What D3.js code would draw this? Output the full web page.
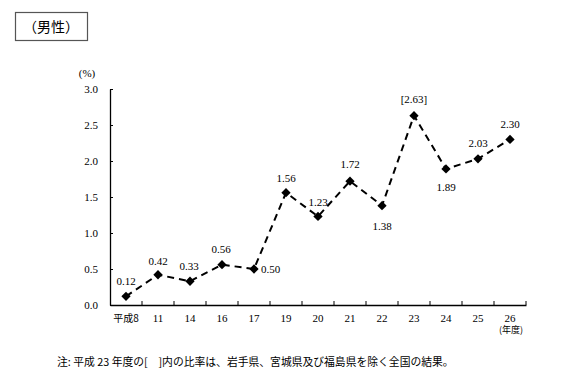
<!DOCTYPE html>
<html><head><meta charset="utf-8">
<script src="https://cdn.jsdelivr.net/npm/d3@7"></script>
<style>body{margin:0;background:#fff}</style>
</head><body>
<svg id="c" width="582" height="377"></svg>
<script>
const categories = ["平成8","11","14","16","17","19","20","21","22","23","24","25","26"];
const values = [0.12,0.42,0.33,0.56,0.50,1.56,1.23,1.72,1.38,2.63,1.89,2.03,2.30];
const valueLabels = ["0.12","0.42","0.33","0.56","0.50","1.56","1.23","1.72","1.38","[2.63]","1.89","2.03","2.30"];
// label placement relative to point: [dx, dy]
const labelPos = [[0,-15],[0,-14],[-1,-15],[-1,-16],[7,0],[0,-15],[0,-14],[0,-17],[0,20],[0,-17],[0,18],[0,-16],[0,-15]];
const yTicks = [0,0.5,1.0,1.5,2.0,2.5,3.0];

const svg = d3.select("#c");
const serif = "Liberation Serif, DejaVu Serif, serif";
const cjk = "Noto Sans CJK JP, sans-serif";

const x = d3.scaleBand().domain(categories).range([110,526]);
const y = d3.scaleLinear().domain([0,3]).range([305,89]);

// title box
svg.append("rect").attr("x",15.5).attr("y",12.5).attr("width",72).attr("height",28)
  .attr("fill","none").attr("stroke","#555").attr("stroke-width",1.2);
svg.append("text").attr("x",51).attr("y",32).attr("text-anchor","middle")
  .attr("font-family",cjk).attr("font-size",14).attr("fill","#000").text("（男性）");

// y axis
const ya = svg.append("g").attr("transform","translate(110,0)")
  .call(d3.axisRight(y).tickValues(yTicks).tickFormat(d3.format(".1f")).tickSize(3).tickSizeOuter(0));
ya.select(".domain").attr("stroke","#000").attr("stroke-width",1.3);
ya.selectAll(".tick line").attr("stroke","#000");
ya.selectAll(".tick text").attr("x",-12).attr("text-anchor","end")
  .attr("font-family",serif).attr("font-size",11).attr("fill","#000");
svg.append("text").attr("x",87).attr("y",77).attr("text-anchor","middle")
  .attr("font-family",serif).attr("font-size",11).text("(%)");

// x axis
const xa = svg.append("g").attr("transform","translate(0,305)")
  .call(d3.axisBottom(x).tickSize(0).tickSizeOuter(0));
xa.select(".domain").attr("stroke","#000").attr("stroke-width",1.3);
xa.selectAll(".tick text").attr("dy",0).attr("y",17)
  .attr("font-family",(d)=>d==="平成8"?cjk:serif).attr("font-size",(d)=>d==="平成8"?10:11).attr("fill","#000");
// boundary ticks pointing up
const bounds = categories.map(c=>x(c)+x.bandwidth());
svg.append("g").selectAll("line").data(bounds).join("line")
  .attr("x1",d=>d).attr("x2",d=>d).attr("y1",305).attr("y2",301)
  .attr("stroke","#000").attr("stroke-width",1);
svg.append("text").attr("x",x("26")+x.bandwidth()/2+1).attr("y",333).attr("text-anchor","middle")
  .attr("font-family",cjk).attr("font-size",9).text("(年度)");

// line
const cx = c => x(c)+x.bandwidth()/2;
const line = d3.line().x((d,i)=>cx(categories[i])).y(d=>y(d));
svg.append("path").datum(values).attr("d",line).attr("fill","none")
  .attr("stroke","#000").attr("stroke-width",2).attr("stroke-dasharray","7,5");

// markers
svg.append("g").selectAll("path").data(values).join("path")
  .attr("transform",(d,i)=>`translate(${cx(categories[i])},${y(d)})`)
  .attr("d",d3.symbol(d3.symbolDiamond2 || d3.symbolDiamond,55)())
  .attr("fill","#000");

// value labels
svg.append("g").selectAll("text").data(values).join("text")
  .attr("x",(d,i)=>cx(categories[i])+labelPos[i][0])
  .attr("y",(d,i)=>y(d)+labelPos[i][1]+4)
  .attr("text-anchor",(d,i)=>labelPos[i][0]>0?"start":"middle")
  .attr("font-family",serif).attr("font-size",11).attr("fill","#000")
  .text((d,i)=>valueLabels[i]);

// note
svg.append("text").attr("x",57).attr("y",366)
  .attr("font-family",cjk).attr("font-size",10.8).attr("fill","#000")
  .text("注: 平成 23 年度の[　]内の比率は、岩手県、宮城県及び福島県を除く全国の結果。");
</script>
</body></html>
